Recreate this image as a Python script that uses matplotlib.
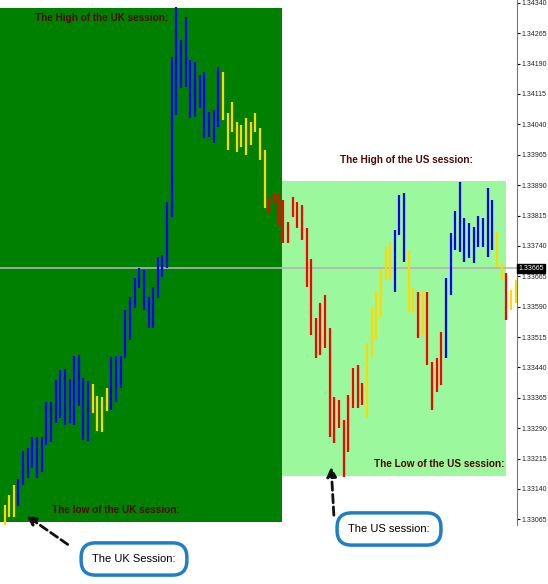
import matplotlib.pyplot as plt
import matplotlib.patches as patches
import numpy as np

# high / low per bar (price), colour per bar
highs = [1.33100, 1.33125, 1.33150, 1.33164, 1.33233, 1.33241, 1.33268, 1.33268, 1.33268, 1.33355,
         1.33355, 1.33409, 1.33434, 1.33436, 1.33411, 1.33468, 1.33471, 1.33414, 1.33406,
         1.33399, 1.33369, 1.33367, 1.33389,
         1.33466, 1.33468, 1.33468, 1.33582, 1.33614,
         1.33661, 1.33685, 1.33681, 1.33614, 1.33639, 1.33713, 1.33718, 1.33849, 1.34207, 1.34330,
         1.34249, 1.34305, 1.34199, 1.34194, 1.34162, 1.34170, 1.34071, 1.34076, 1.34182,
         1.34170, 1.34068, 1.34096, 1.34046, 1.34039, 1.34056, 1.34046, 1.34068, 1.34031, 1.33977,
         1.33861, 1.33871, 1.33868, 1.33853,
         1.33799, 1.33861, 1.33849, 1.33841, 1.33784, 1.33708, 1.33562, 1.33599, 1.33619, 1.33537,
         1.33367, 1.33359, 1.33310, 1.33372, 1.33438, 1.33446, 1.33401,
         1.33500, 1.33587, 1.33626, 1.33681, 1.33737, 1.33750,
         1.33779, 1.33866, 1.33871,
         1.33730, 1.33639, 1.33626, 1.33626, 1.33626, 1.33453, 1.33463, 1.33527,
         1.33661, 1.33772, 1.33826, 1.33898, 1.33809, 1.33797, 1.33787, 1.33814, 1.33809, 1.33883, 1.33853,
         1.33774, 1.33698, 1.33673, 1.33631, 1.33656]
lows = [1.33051, 1.33070, 1.33070, 1.33098, 1.33150, 1.33167, 1.33191, 1.33167, 1.33182, 1.33248,
        1.33256, 1.33303, 1.33315, 1.33298, 1.33303, 1.33298, 1.33345, 1.33261, 1.33258,
        1.33327, 1.33283, 1.33280, 1.33332,
        1.33335, 1.33355, 1.33389, 1.33463, 1.33508,
        1.33587, 1.33636, 1.33582, 1.33537, 1.33537, 1.33611, 1.33663, 1.33685, 1.33811, 1.34063,
        1.34130, 1.34132, 1.34056, 1.34058, 1.34081, 1.34007, 1.34009, 1.33994, 1.34034,
        1.34051, 1.33977, 1.34021, 1.33972, 1.33984, 1.33965, 1.33989, 1.34021, 1.33952, 1.33834,
        1.33821, 1.33846, 1.33792, 1.33747,
        1.33747, 1.33811, 1.33784, 1.33755, 1.33639, 1.33520, 1.33463, 1.33471, 1.33488, 1.33268,
        1.33253, 1.33290, 1.33169, 1.33231, 1.33340, 1.33340, 1.33347,
        1.33315, 1.33466, 1.33508, 1.33564, 1.33656, 1.33656,
        1.33626, 1.33767, 1.33700,
        1.33577, 1.33574, 1.33513, 1.33520, 1.33446, 1.33335, 1.33379, 1.33396,
        1.33463, 1.33619, 1.33730, 1.33725, 1.33700, 1.33710, 1.33698, 1.33737, 1.33737, 1.33713, 1.33730,
        1.33688, 1.33656, 1.33557, 1.33582, 1.33599]
colours = (["Y"] * 3 + ["B"] * 16 + ["Y"] * 4 + ["B"] * 5 + ["B"] * 19 + ["Y"] * 10 + ["R"] * 4
           + ["R"] * 17 + ["Y"] * 6 + ["B"] * 3 + ["Y", "Y", "R", "Y", "R", "R", "R", "R"]
           + ["B"] * 11 + ["Y", "Y", "R", "Y", "Y"])
colour_map = {"B": "#0000ff", "Y": "#ffd800", "R": "#ff0000"}

price_now = 1.33665
tick_vals = np.round(np.arange(1.33065, 1.34341, 0.00075), 5)

font = ["Liberation Sans", "DejaVu Sans"]

fig = plt.figure(figsize=(5.48, 5.84), dpi=100)
ax = fig.add_axes([0, 1 - 525 / 584, 517 / 548, 525 / 584])
ax.set_xlim(-0.97, 110.3)
ax.set_ylim(1.33051, 1.34347)

# session boxes
ax.add_patch(patches.Rectangle((-0.97, 1.33058), 60.77, 1.34328 - 1.33058,
                               facecolor="#008000", edgecolor="none", zorder=0))
ax.add_patch(patches.Rectangle((59.8, 1.33172), 48.2, 1.33900 - 1.33172,
                               facecolor="#9cf89c", edgecolor="none", zorder=0))
ax.axhline(1.33685, color="#b4b4b4", lw=1.2, zorder=1)

x = np.arange(len(highs))
ax.vlines(x, lows, highs, colors=[colour_map[c] for c in colours], lw=1.6, zorder=2)

for s in ["left", "top", "bottom"]:
    ax.spines[s].set_visible(False)
ax.spines["right"].set_color("#777777")
ax.yaxis.tick_right()
ax.set_yticks(tick_vals)
ax.set_yticklabels([f"{v:.5f}" for v in tick_vals], fontsize=5, color="#222222",
                   family=font)
ax.tick_params(axis="y", length=2, pad=1.5)
ax.set_xticks([])
ax.text(1.002, 1.33685, f"{price_now:.5f}", transform=ax.get_yaxis_transform(),
        fontsize=5, color="white", va="center", ha="left", family=font,
        bbox=dict(facecolor="black", edgecolor="black", pad=0.8))


def fx(px):
    return px / 548


def fy(py):
    return 1 - py / 584


label_style = dict(fontsize=7.2, color="#4a0a0a", fontweight="bold", family=font)
fig.text(fx(35), fy(18), "The High of the UK session:", va="center", **label_style)
fig.text(fx(340), fy(160), "The High of the US session:", va="center", **label_style)
fig.text(fx(504), fy(464), "The Low of the US session:", va="center", ha="right", **label_style)
fig.text(fx(52), fy(510), "The low of the UK session:", va="center", **label_style)

box = dict(boxstyle="round,pad=1.0,rounding_size=1.3", facecolor="white",
           edgecolor="#1e7fc8", lw=2.5)
fig.text(fx(134), fy(559), "The UK Session:", ha="center", va="center",
         fontsize=8, color="black", family=font, bbox=box)
fig.text(fx(389), fy(529), "The US session:", ha="center", va="center",
         fontsize=8, color="black", family=font, bbox=box)

arrow = dict(arrowstyle="-|>", linestyle=(0, (3, 1.5)), lw=2, color="#111111",
             mutation_scale=14)
fig.add_artist(patches.FancyArrowPatch(
    (fx(70), fy(546)), (fx(24), fy(514)), transform=fig.transFigure, **arrow))
fig.add_artist(patches.FancyArrowPatch(
    (fx(334), fy(518)), (fx(331), fy(464)), transform=fig.transFigure, **arrow))

fig.savefig("out.png", dpi=100)
